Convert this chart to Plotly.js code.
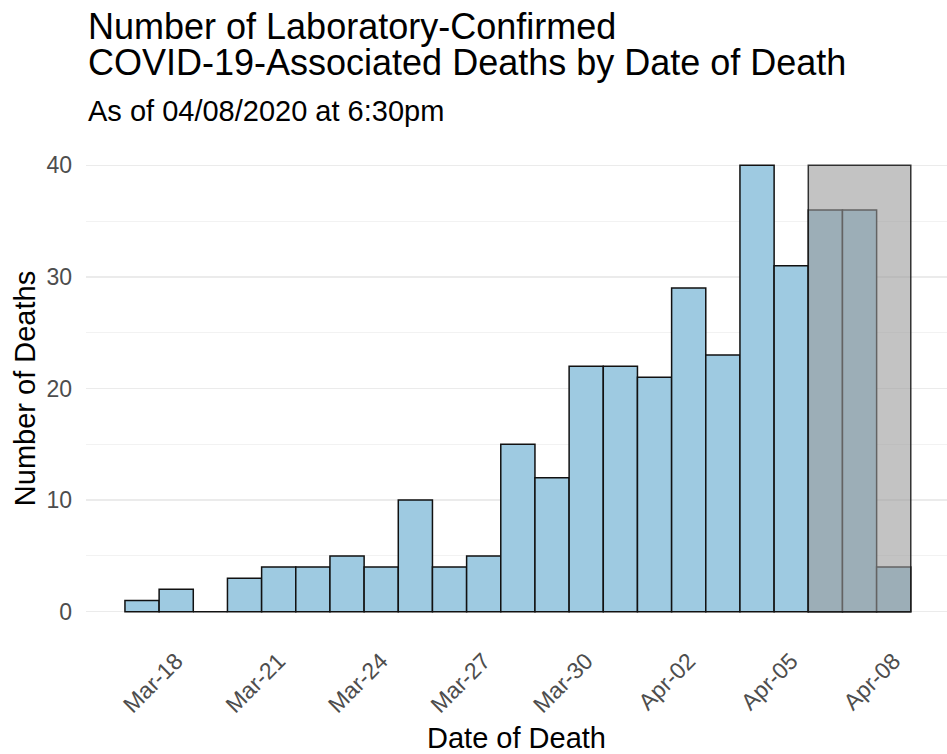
<!DOCTYPE html>
<html>
<head>
<meta charset="utf-8">
<script src="https://cdn.plot.ly/plotly-3.0.1.min.js"></script>
<style>html,body{margin:0;padding:0;background:#fff;}#chart{width:947px;height:754px;}</style>
</head>
<body>
<div id="chart"></div>
<script>
const dates = ["2020-03-17","2020-03-18","2020-03-19","2020-03-20","2020-03-21","2020-03-22","2020-03-23","2020-03-24","2020-03-25","2020-03-26","2020-03-27","2020-03-28","2020-03-29","2020-03-30","2020-03-31","2020-04-01","2020-04-02","2020-04-03","2020-04-04","2020-04-05","2020-04-06","2020-04-07","2020-04-08"];
const deaths = [1,2,0,3,4,4,5,4,10,4,5,15,12,22,22,21,29,23,40,31,36,36,4];
const shadeFirstDay = "2020-04-06";
const shadeLastDay = "2020-04-08";
const shadeTop = 40;
const yTicks = [0,10,20,30,40];
const xTickStart = "2020-03-18";
const titleLine1 = "Number of Laboratory-Confirmed";
const titleLine2 = "COVID-19-Associated Deaths by Date of Death";
const subtitleText = "As of 04/08/2020 at 6:30pm";
const xTitle = "Date of Death";
const yTitle = "Number of Deaths";

const DAY = 86400000;
function shift(d, days){ return new Date(Date.parse(d + "T00:00:00Z") + days*DAY).toISOString().replace("Z",""); }

const font = "Liberation Sans, Arial, sans-serif";
const trace = {
  type: "bar", x: dates, y: deaths,
  marker: {color: "#9ecae1", line: {color: "#111", width: 1.5}},
  hoverinfo: "x+y"
};
function ann(text, yshift, size){
  return {text: text, xref: "paper", yref: "paper", x: 0, y: 1, xshift: 0, yshift: yshift,
          xanchor: "left", yanchor: "middle", showarrow: false,
          font: {family: font, size: size, color: "#000"}};
}
const layout = {
  width: 947, height: 754,
  margin: {l: 86, r: 0, t: 143, b: 120},
  paper_bgcolor: "#fff", plot_bgcolor: "#fff",
  bargap: 0,
  showlegend: false,
  font: {family: font, color: "#000"},
  annotations: [ann(titleLine1, 117, 36), ann(titleLine2, 81, 36), ann(subtitleText, 32, 29)],
  xaxis: {
    type: "date", range: [shift(dates[0], -1.64), shift(dates[dates.length-1], 1.56)],
    tick0: xTickStart, dtick: 3*DAY, tickformat: "%b-%d", tickangle: -45,
    showgrid: false, zeroline: false, showline: false, ticks: "", ticklabelstandoff: 8,
    tickfont: {family: font, size: 23, color: "#4d4d4d"},
    title: {text: xTitle, font: {family: font, size: 29, color: "#000"}, standoff: 12}
  },
  yaxis: {
    range: [-2, 42], tickvals: yTicks, showgrid: true, gridcolor: "#ebebeb", gridwidth: 1.3,
    minor: {dtick: 5, tick0: 0, showgrid: true, gridcolor: "#f2f2f2", gridwidth: 1},
    zeroline: false, showline: false, ticks: "", ticklabelstandoff: 13,
    tickfont: {family: font, size: 23, color: "#4d4d4d"},
    title: {text: yTitle, font: {family: font, size: 29, color: "#000"}, standoff: 2}
  },
  shapes: [{
    type: "rect", xref: "x", yref: "y", layer: "above",
    x0: shift(shadeFirstDay, -0.5), x1: shift(shadeLastDay, 0.5), y0: 0, y1: shadeTop,
    fillcolor: "rgba(155,155,155,0.6)", line: {color: "rgba(20,20,20,0.85)", width: 1.5}
  }]
};
Plotly.newPlot("chart", [trace], layout, {displayModeBar: false, staticPlot: true});
</script>
</body>
</html>
